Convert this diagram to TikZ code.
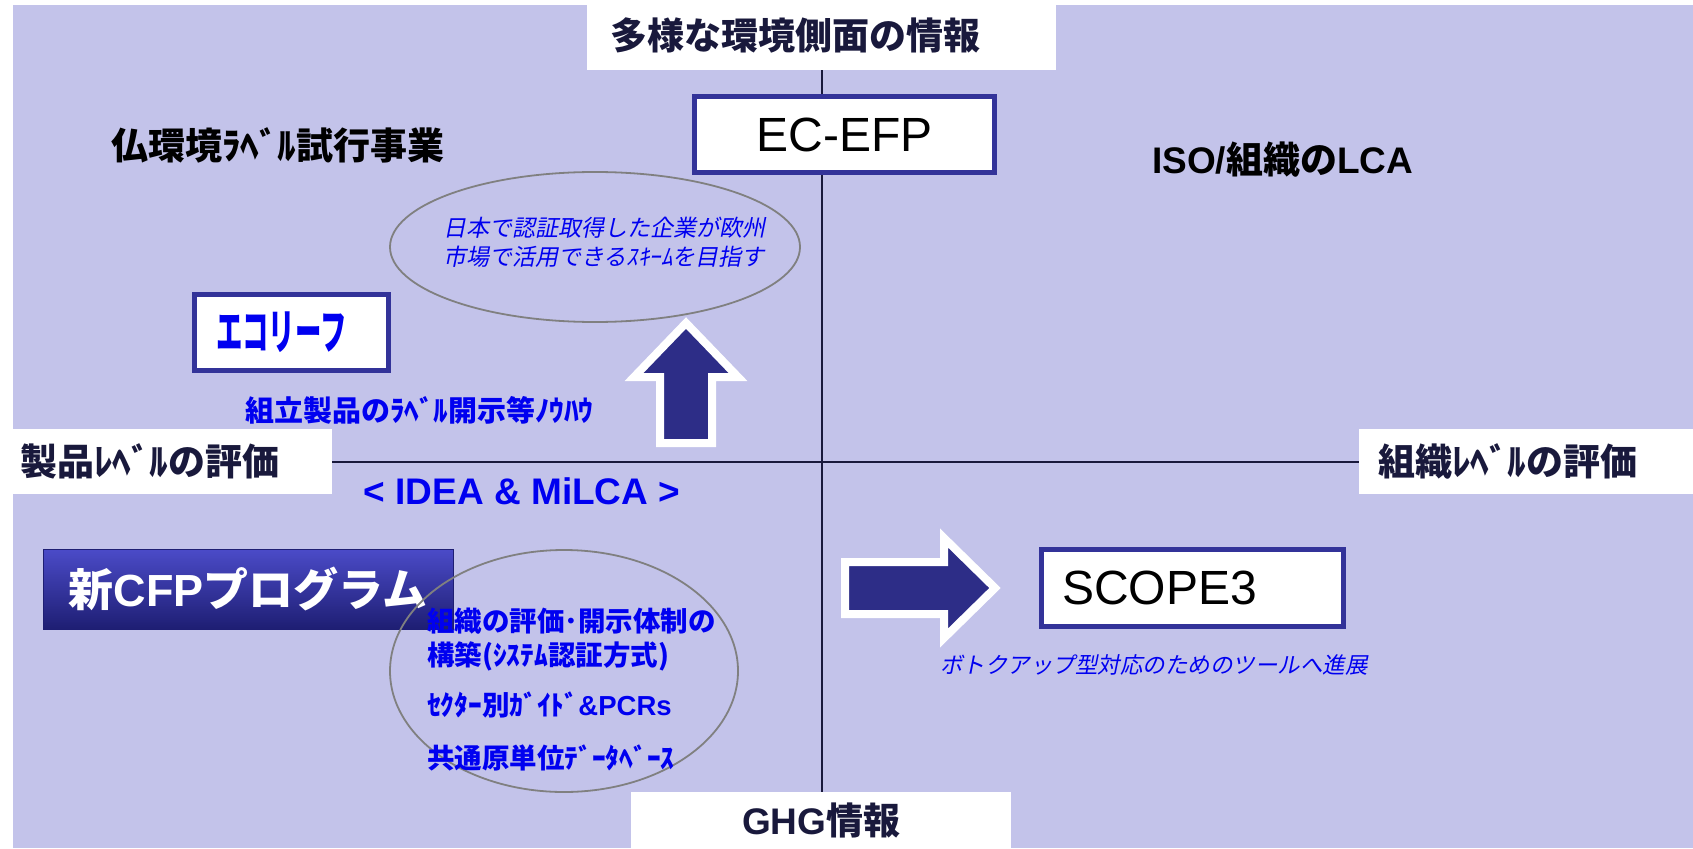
\documentclass[tikz,border=0pt]{standalone}
\usepackage{fontspec}
\setmainfont{Liberation Sans}
\newfontfamily\jp{Noto Sans CJK JP}
\newfontfamily\jpit{Noto Sans CJK JP}[FakeSlant=0.2]
\usetikzlibrary{shapes.geometric, positioning}
\definecolor{bglav}{RGB}{195,195,234}
\definecolor{arrownavy}{RGB}{45,45,135}
\definecolor{boxnavy}{RGB}{51,51,153}
\definecolor{axisnavy}{RGB}{25,25,60}
\definecolor{textblue}{RGB}{0,0,240}
\definecolor{bubblegray}{RGB}{128,128,128}
\definecolor{cfptop}{RGB}{75,75,200}
\definecolor{cfpmid}{RGB}{42,42,165}
\definecolor{cfpbottom}{RGB}{30,30,115}
\tikzset{%
	axislabel/.style = { fill=white, inner ysep=0pt, text=axisnavy, align=left, font=\jp\bfseries\fontsize{37}{42}\selectfont },
	axisline/.style = { draw=axisnavy, line width=2pt },
	namebox/.style = { draw=boxnavy, line width=5pt, fill=white, inner ysep=0pt, font=\fontsize{48}{52}\selectfont },
	cfpbutton/.style = { top color=cfptop, middle color=cfpmid, bottom color=cfpbottom, draw=cfpbottom, line width=1pt, text=white, inner sep=0pt, font=\jp\bfseries\fontsize{45}{50}\selectfont },
	bubble/.style = { ellipse, draw=bubblegray, line width=1.8pt, inner sep=0pt },
	bigarrow/.style = { fill=arrownavy, draw=white, line width=8pt, line join=miter },
	bluenote/.style = { anchor=west, text=textblue, align=left, inner sep=0pt },
	heading/.style = { anchor=west, inner sep=0pt, font=\bfseries\fontsize{37}{42}\selectfont }
}

\begin{document}
\begin{tikzpicture}[x=1pt, y=-1pt]
	\useasboundingbox (0,0) rectangle (1693,848);
	% 1. 背景
	\fill[white] (0,0) rectangle (1693,848);
	\fill[bglav] (13,5) rectangle (1693,848);

	% 2. 軸ラベルと軸
	\node[axislabel, anchor=north west, minimum width=469pt, minimum height=70pt, inner xsep=23pt, text width=423pt] (topinfo) at (587,0) {多様な環境側面の情報};
	\node[axislabel, anchor=north west, minimum width=380pt, minimum height=56pt, inner xsep=0pt, text width=380pt, align=center] (ghginfo) at (631,792) {{\rmfamily GHG}情報};
	\node[axislabel, anchor=west, minimum width=319pt, minimum height=65pt, inner xsep=7pt, text width=305pt] (prodlevel) at (13,461.5) {製品ﾚﾍﾞﾙの評価};
	\node[axislabel, anchor=west, minimum width=334pt, minimum height=65pt, inner xsep=19pt, text width=296pt] (orglevel) at (1359,461.5) {組織ﾚﾍﾞﾙの評価};
	\draw[axisline] (topinfo.south) -- (topinfo.south |- ghginfo.north);
	\draw[axisline] (prodlevel.east) -- (orglevel.west);

	% 3. 名称ボックス
	\node[namebox, minimum width=300pt, minimum height=76pt] (ecefp) at (844.5,134.5) {EC-EFP};
	\node[namebox, anchor=west, minimum width=302pt, minimum height=77pt, inner xsep=20.5pt, text width=261pt] (scope) at (1039,588) {SCOPE3};
	\node[namebox, anchor=west, minimum width=194pt, minimum height=76pt, inner xsep=21.5pt, text width=151pt, text=textblue, font=\jp\bfseries\fontsize{48}{52}\selectfont] (ecoleaf) at (192,332) {\scalebox{0.55}[1]{エコリーフ}};
	\node[cfpbutton, minimum width=410pt, minimum height=80pt] (newcfp) at (248,589) {新{\rmfamily CFP}プログラム};

	% 4. 楕円
	\node[bubble, minimum width=410pt, minimum height=150pt] (goalbubble) at (595,247) {};
	\node[bubble, minimum width=348pt, minimum height=242pt] (orgbubble) at (564,671) {};

	% 5. 矢印
	\draw[bigarrow] (660,443) -- (660,377) -- (634,377) -- (686,323) -- (738,377) -- (712,377) -- (712,443) -- cycle;
	\draw[bigarrow] (845,562) -- (944,562) -- (944,538) -- (995,588) -- (944,638) -- (944,614) -- (845,614) -- cycle;

	% 6. テキスト
	\node[heading] (frlabel) at (111,145) {\jp 仏環境ﾗﾍﾞﾙ試行事業};
	\node[heading] (isolca) at (1152,160) {ISO/{\jp 組織の}LCA};
	\node[bluenote, font=\jpit\fontsize{23}{29}\selectfont] (goaltext) at (443,242.5) {日本で認証取得した企業が欧州\\市場で活用できるｽｷｰﾑを目指す};
	\node[bluenote, font=\jp\bfseries\fontsize{29}{32}\selectfont] (knowhow) at (245,410) {組立製品のﾗﾍﾞﾙ開示等ﾉｳﾊｳ};
	\node[bluenote, anchor=center, font=\bfseries\fontsize{37}{42}\selectfont] (idea) at (522,491) {< IDEA \& MiLCA >};
	\node[bluenote, font=\jp\bfseries\fontsize{27.5}{34}\selectfont] (orgsys) at (427,640) {組織の評価･開示体制の\\構築(ｼｽﾃﾑ認証方式)};
	\node[bluenote, font=\jp\bfseries\fontsize{27.5}{30}\selectfont] (sector) at (427,705) {ｾｸﾀｰ別ｶﾞｲﾄﾞ{\rmfamily\&PCRs}};
	\node[bluenote, font=\jp\bfseries\fontsize{27.5}{30}\selectfont] (database) at (427,758) {共通原単位ﾃﾞｰﾀﾍﾞｰｽ};
	\node[bluenote, font=\jpit\fontsize{22.5}{28}\selectfont] (bottomup) at (940,665) {ボトクアップ型対応のためのツールへ進展};
\end{tikzpicture}
\end{document}
